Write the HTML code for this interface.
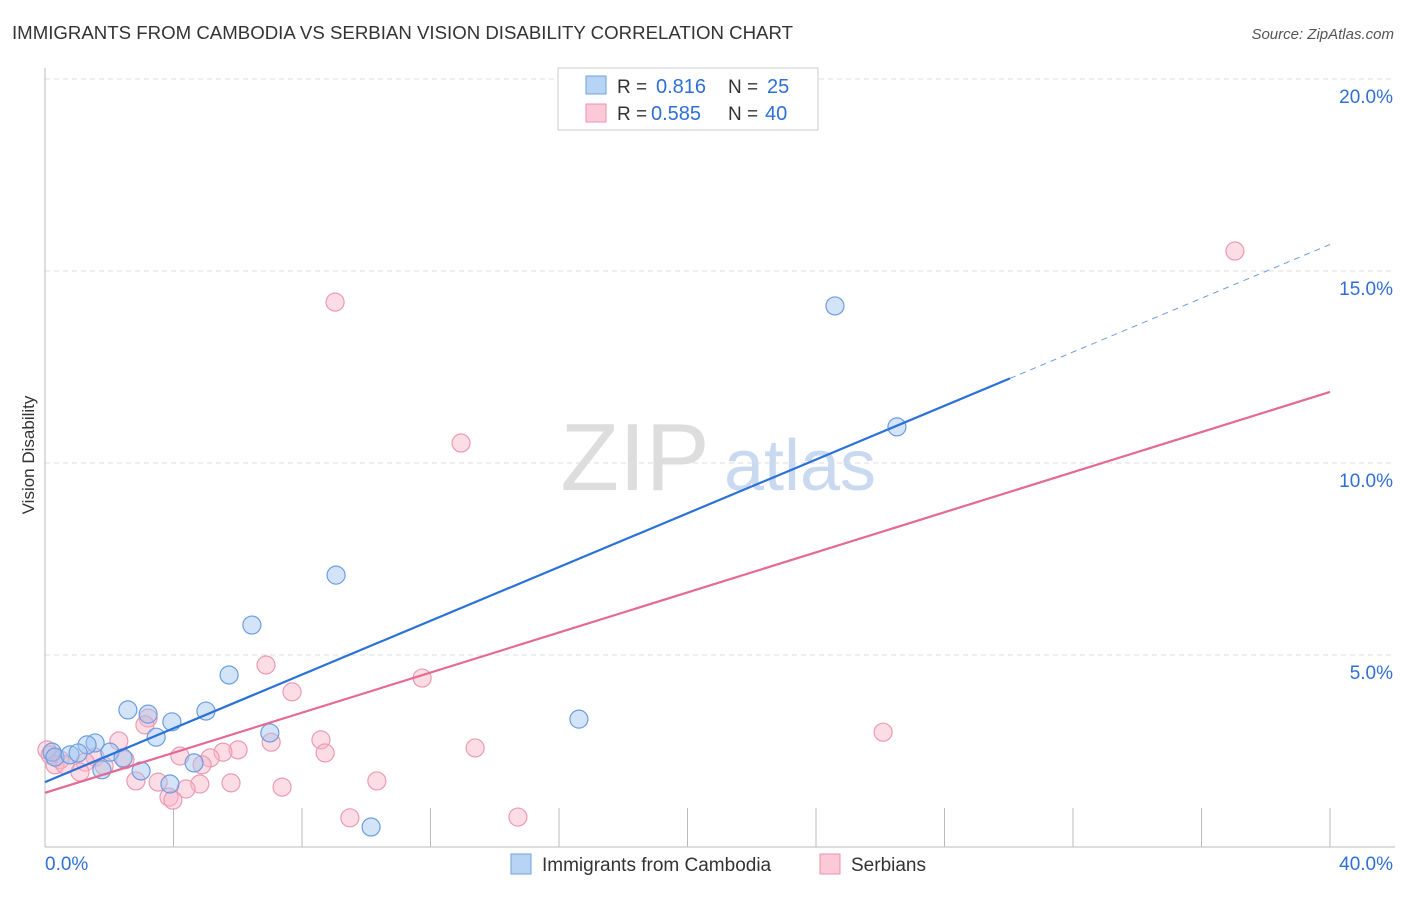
<!DOCTYPE html>
<html><head><meta charset="utf-8"><style>
body{margin:0;background:#fff;font-family:"Liberation Sans",sans-serif;}
svg text{font-family:"Liberation Sans",sans-serif;}
</style></head><body>
<svg id="chart" width="1406" height="892" xmlns="http://www.w3.org/2000/svg">
<text x="12" y="39" font-size="18" fill="#333" textLength="781" lengthAdjust="spacingAndGlyphs">IMMIGRANTS FROM CAMBODIA VS SERBIAN VISION DISABILITY CORRELATION CHART</text>
<text x="1394" y="39" font-size="15" fill="#555" text-anchor="end" font-style="italic">Source: ZipAtlas.com</text>
<g>
<text x="635" y="490" font-size="96" fill="#ddd" font-family="Liberation Serif" text-anchor="middle">ZIP</text>
<text x="800" y="490" font-size="72" fill="#c9d9ef" text-anchor="middle">atlas</text>
</g>
<g id="grid"></g>
<g id="axes"></g>
<g id="marks"></g>
<text transform="translate(34,455) rotate(-90)" font-size="17" fill="#333" text-anchor="middle">Vision Disability</text>
<g>
<rect x="558" y="68" width="260" height="62" fill="#fff" stroke="#ccc"/>
<rect x="586" y="76" width="20" height="18" fill="#b8d4f5" stroke="#6fa0e0"/>
<text x="617" y="93" font-size="19" fill="#333">R = </text><text x="656" y="93" font-size="20" fill="#2f6fd6">0.816</text>
<text x="728" y="93" font-size="19" fill="#333">N = </text><text x="767" y="93" font-size="20" fill="#2f6fd6">25</text>
<rect x="586" y="104" width="20" height="18" fill="#fbc9d8" stroke="#ec8fac"/>
<text x="617" y="120" font-size="19" fill="#333">R = </text><text x="651" y="120" font-size="20" fill="#2f6fd6">0.585</text>
<text x="728" y="120" font-size="19" fill="#333">N = </text><text x="765" y="120" font-size="20" fill="#2f6fd6">40</text>
</g>
<g>
<rect x="511" y="854" width="20" height="20" fill="#b8d4f5" stroke="#6fa0e0"/>
<text x="542" y="871" font-size="19" fill="#333">Immigrants from Cambodia</text>
<rect x="820" y="854" width="20" height="20" fill="#fbc9d8" stroke="#ec8fac"/>
<text x="851" y="871" font-size="19" fill="#333">Serbians</text>
</g>
</svg>
<script>
const blueX=[24.59,26.52,9.06,6.44,5.73,5.01,2.58,3.21,3.95,3.46,1.56,1.31,7.00,16.62,4.64,2.99,1.77,3.89,10.15,0.22,0.31,0.78,1.03,2.02,2.43];
const blueY=[14.09,10.94,7.08,5.78,4.48,3.54,3.57,3.46,3.26,2.86,2.71,2.66,2.97,3.33,2.19,1.98,2.01,1.64,0.52,2.47,2.34,2.40,2.45,2.47,2.32];
const pinkX=[37.04,9.03,12.95,6.88,11.74,7.69,26.09,3.21,3.11,7.04,8.59,2.30,6.01,5.54,4.20,13.39,8.72,5.14,4.89,2.49,1.56,1.25,1.84,1.09,10.33,2.83,3.52,5.79,7.38,4.82,4.39,3.86,3.98,9.49,14.72,0.47,0.16,0.31,0.62,0.06];
const pinkY=[15.52,14.19,10.52,4.74,4.40,4.04,2.99,3.36,3.18,2.73,2.79,2.76,2.53,2.47,2.37,2.58,2.45,2.32,2.14,2.27,2.34,2.21,2.11,1.95,1.72,1.72,1.69,1.67,1.56,1.64,1.51,1.30,1.22,0.76,0.78,2.27,2.40,2.14,2.14,2.53];
const blueFit=[1.69,0.3500];
const pinkFit=[1.41,0.2610];
const yTicks=[5,10,15,20];
const yTickLabels=["5.0%","10.0%","15.0%","20.0%"];
const xTicks=[0,4,8,12,16,20,24,28,32,36,40];
const NS="http://www.w3.org/2000/svg";
const xs=v=>45+v*32.125, ys=v=>847-v*38.4;
function mk(p,t,a){const e=document.createElementNS(NS,t);for(const k in a)e.setAttribute(k,a[k]);p.appendChild(e);return e;}
const grid=document.getElementById('grid'),axes=document.getElementById('axes'),marks=document.getElementById('marks');
yTicks.forEach((t,i)=>{
 const l=mk(grid,'line',{x1:45,x2:1395,y1:ys(t),y2:ys(t),stroke:'#ddd','stroke-dasharray':'5,4'});
 
 
 const tx=mk(axes,'text',{x:1393,y:ys(t)+24,'font-size':19,fill:'#2f6fd6','text-anchor':'end'});
 tx.textContent=yTickLabels[i];
 
 
});
mk(axes,'line',{x1:45,x2:45,y1:68,y2:847,stroke:'#bbb'});
mk(axes,'line',{x1:45,x2:1395,y1:847,y2:847,stroke:'#bbb'});
xTicks.forEach(t=>{const l=mk(axes,'line',{x1:xs(t),x2:xs(t),y1:808,y2:847,stroke:'#bbb'});
 
 });
const x0=mk(axes,'text',{x:45,y:870,'font-size':19,fill:'#2f6fd6'});x0.textContent='0.0%';


const x1=mk(axes,'text',{x:1393,y:870,'font-size':19,fill:'#2f6fd6','text-anchor':'end'});x1.textContent='40.0%';


function pts(X,Y,fill,stroke,name){X.forEach((x,i)=>{const c=mk(marks,'circle',{cx:xs(x),cy:ys(Y[i]),r:9,fill:fill,stroke:stroke,'stroke-width':1.2});
 
 });}
pts(pinkX,pinkY,'rgba(248,180,200,0.45)','#ec9ab3','serbians-point');
pts(blueX,blueY,'rgba(160,196,240,0.45)','#6c9de0','cambodia-point');
const bx=30.04;
const bl=mk(marks,'line',{x1:xs(0),y1:ys(blueFit[0]),x2:xs(bx),y2:ys(blueFit[0]+blueFit[1]*bx),stroke:'#2a72d8','stroke-width':2.2});


const bd=mk(marks,'line',{x1:xs(bx),y1:ys(blueFit[0]+blueFit[1]*bx),x2:xs(40),y2:ys(blueFit[0]+blueFit[1]*40),stroke:'#6c9de0','stroke-width':1,'stroke-dasharray':'6,5'});


const pl=mk(marks,'line',{x1:xs(0),y1:ys(pinkFit[0]),x2:xs(40),y2:ys(pinkFit[0]+pinkFit[1]*40),stroke:'#e46a93','stroke-width':2.2});


</script>
</body></html>
